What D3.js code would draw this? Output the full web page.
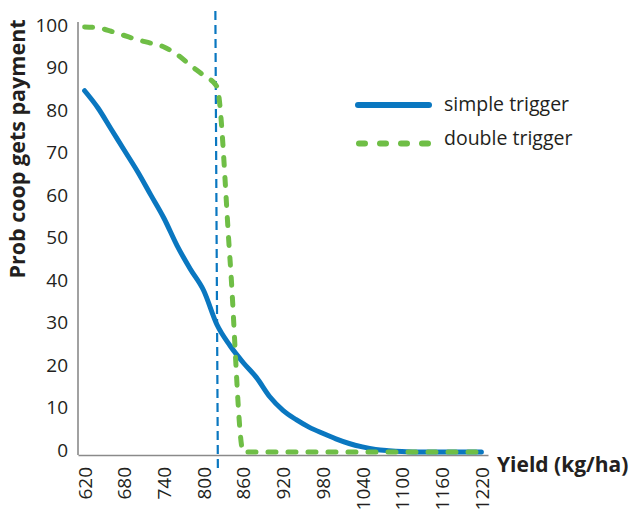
<!DOCTYPE html>
<html><head><meta charset="utf-8">
<script src="https://cdn.jsdelivr.net/npm/d3@7"></script>
<style>
html,body{margin:0;padding:0;background:#fff;}
svg{display:block;font-family:"Open Sans","Noto Sans",sans-serif;}
</style></head>
<body>
<svg id="chart" width="634" height="512"></svg>
<script>
const yields = [620,640,660,680,700,720,740,760,780,800,820,840,860,880,900,920,940,960,980,1000,1020,1040,1060,1080,1100,1120,1140,1160,1180,1200,1220];
const simpleTrigger = [85,81,76,71,66,60.5,55,48.5,43,38,30,25,21,17.5,13,9.8,7.6,5.8,4.4,3.1,2,1.2,0.6,0.3,0.1,0,0,0,0,0,0];
const doubleTrigger = [100,99.8,99,98,97,96.2,95.3,93.5,91,88.6,86,45,0,0,0,0,0,0,0,0,0,0,0,0,0,0,0,0,0,0,0];
const xTickLabels = [620,680,740,800,860,920,980,1040,1100,1160,1220];
const yTickLabels = [0,10,20,30,40,50,60,70,80,90,100];
const triggerYield = 820;
const seriesNames = ["simple trigger","double trigger"];

const blue = "#0a77c0", green = "#6fbe46", txt = "#231f20";
const svg = d3.select("#chart");
const x = d3.scaleLinear().domain([610,1230]).range([78,488]);
const y = d3.scaleLinear().domain([0,100]).range([452,27]);

// axes
const xAxis = svg.append("g").attr("transform","translate(0,455)")
  .call(d3.axisBottom(x).tickValues(xTickLabels).tickFormat(d3.format("d")).tickSize(0).tickPadding(0));
xAxis.select(".domain").attr("stroke","#8a8a8a").attr("stroke-width",1.6);
xAxis.selectAll(".tick text")
  .attr("transform","rotate(-90)")
  .attr("text-anchor","end")
  .attr("x",-12).attr("y",0).attr("dy","0.35em")
  .attr("font-size",19).attr("fill",txt)
  .style("font-family","'Open Sans',sans-serif");

const yAxis = svg.append("g").attr("transform","translate(78,0)")
  .call(d3.axisLeft(y).tickValues(yTickLabels).tickSize(0).tickPadding(10));
yAxis.select(".domain").attr("stroke","#8a8a8a").attr("stroke-width",1.6)
  .attr("d","M0,22V455");
yAxis.selectAll(".tick text").attr("font-size",19).attr("fill",txt)
  .attr("dy","0.22em")
  .style("font-family","'Open Sans',sans-serif");

svg.append("text").attr("transform","translate(25,149) rotate(-90)")
  .attr("text-anchor","middle").attr("font-size",21.5).attr("font-weight","bold")
  .attr("fill",txt).text("Prob coop gets payment");
svg.append("text").attr("x",497).attr("y",472)
  .attr("font-size",21).attr("font-weight","bold").attr("fill",txt).text("Yield (kg/ha)");

// trigger line
svg.append("line").attr("x1",x(triggerYield)-1.5).attr("x2",x(triggerYield)+1)
  .attr("y1",11).attr("y2",470)
  .attr("stroke",blue).attr("stroke-width",2.2).attr("stroke-dasharray","9,5");

const line = d3.line().x((d,i)=>x(yields[i])).y(d=>y(d)).curve(d3.curveMonotoneX);
svg.append("path").datum(simpleTrigger).attr("d",line)
  .attr("fill","none").attr("stroke",blue).attr("stroke-width",5).attr("stroke-linecap","round");
svg.append("path").datum(doubleTrigger).attr("d",line)
  .attr("fill","none").attr("stroke",green).attr("stroke-width",5)
  .attr("stroke-linecap","round").attr("stroke-dasharray","8,12");

// legend
const lg = svg.append("g");
lg.append("line").attr("x1",358).attr("x2",429).attr("y1",105).attr("y2",105)
  .attr("stroke",blue).attr("stroke-width",6).attr("stroke-linecap","round");
lg.append("line").attr("x1",359).attr("x2",429).attr("y1",143.5).attr("y2",143.5)
  .attr("stroke",green).attr("stroke-width",6).attr("stroke-linecap","round").attr("stroke-dasharray","6,15");
lg.append("text").attr("x",444).attr("y",111).attr("font-size",19.5).attr("fill",txt).text(seriesNames[0]);
lg.append("text").attr("x",444).attr("y",145).attr("font-size",19.5).attr("fill",txt).text(seriesNames[1]);
</script>
</body></html>
